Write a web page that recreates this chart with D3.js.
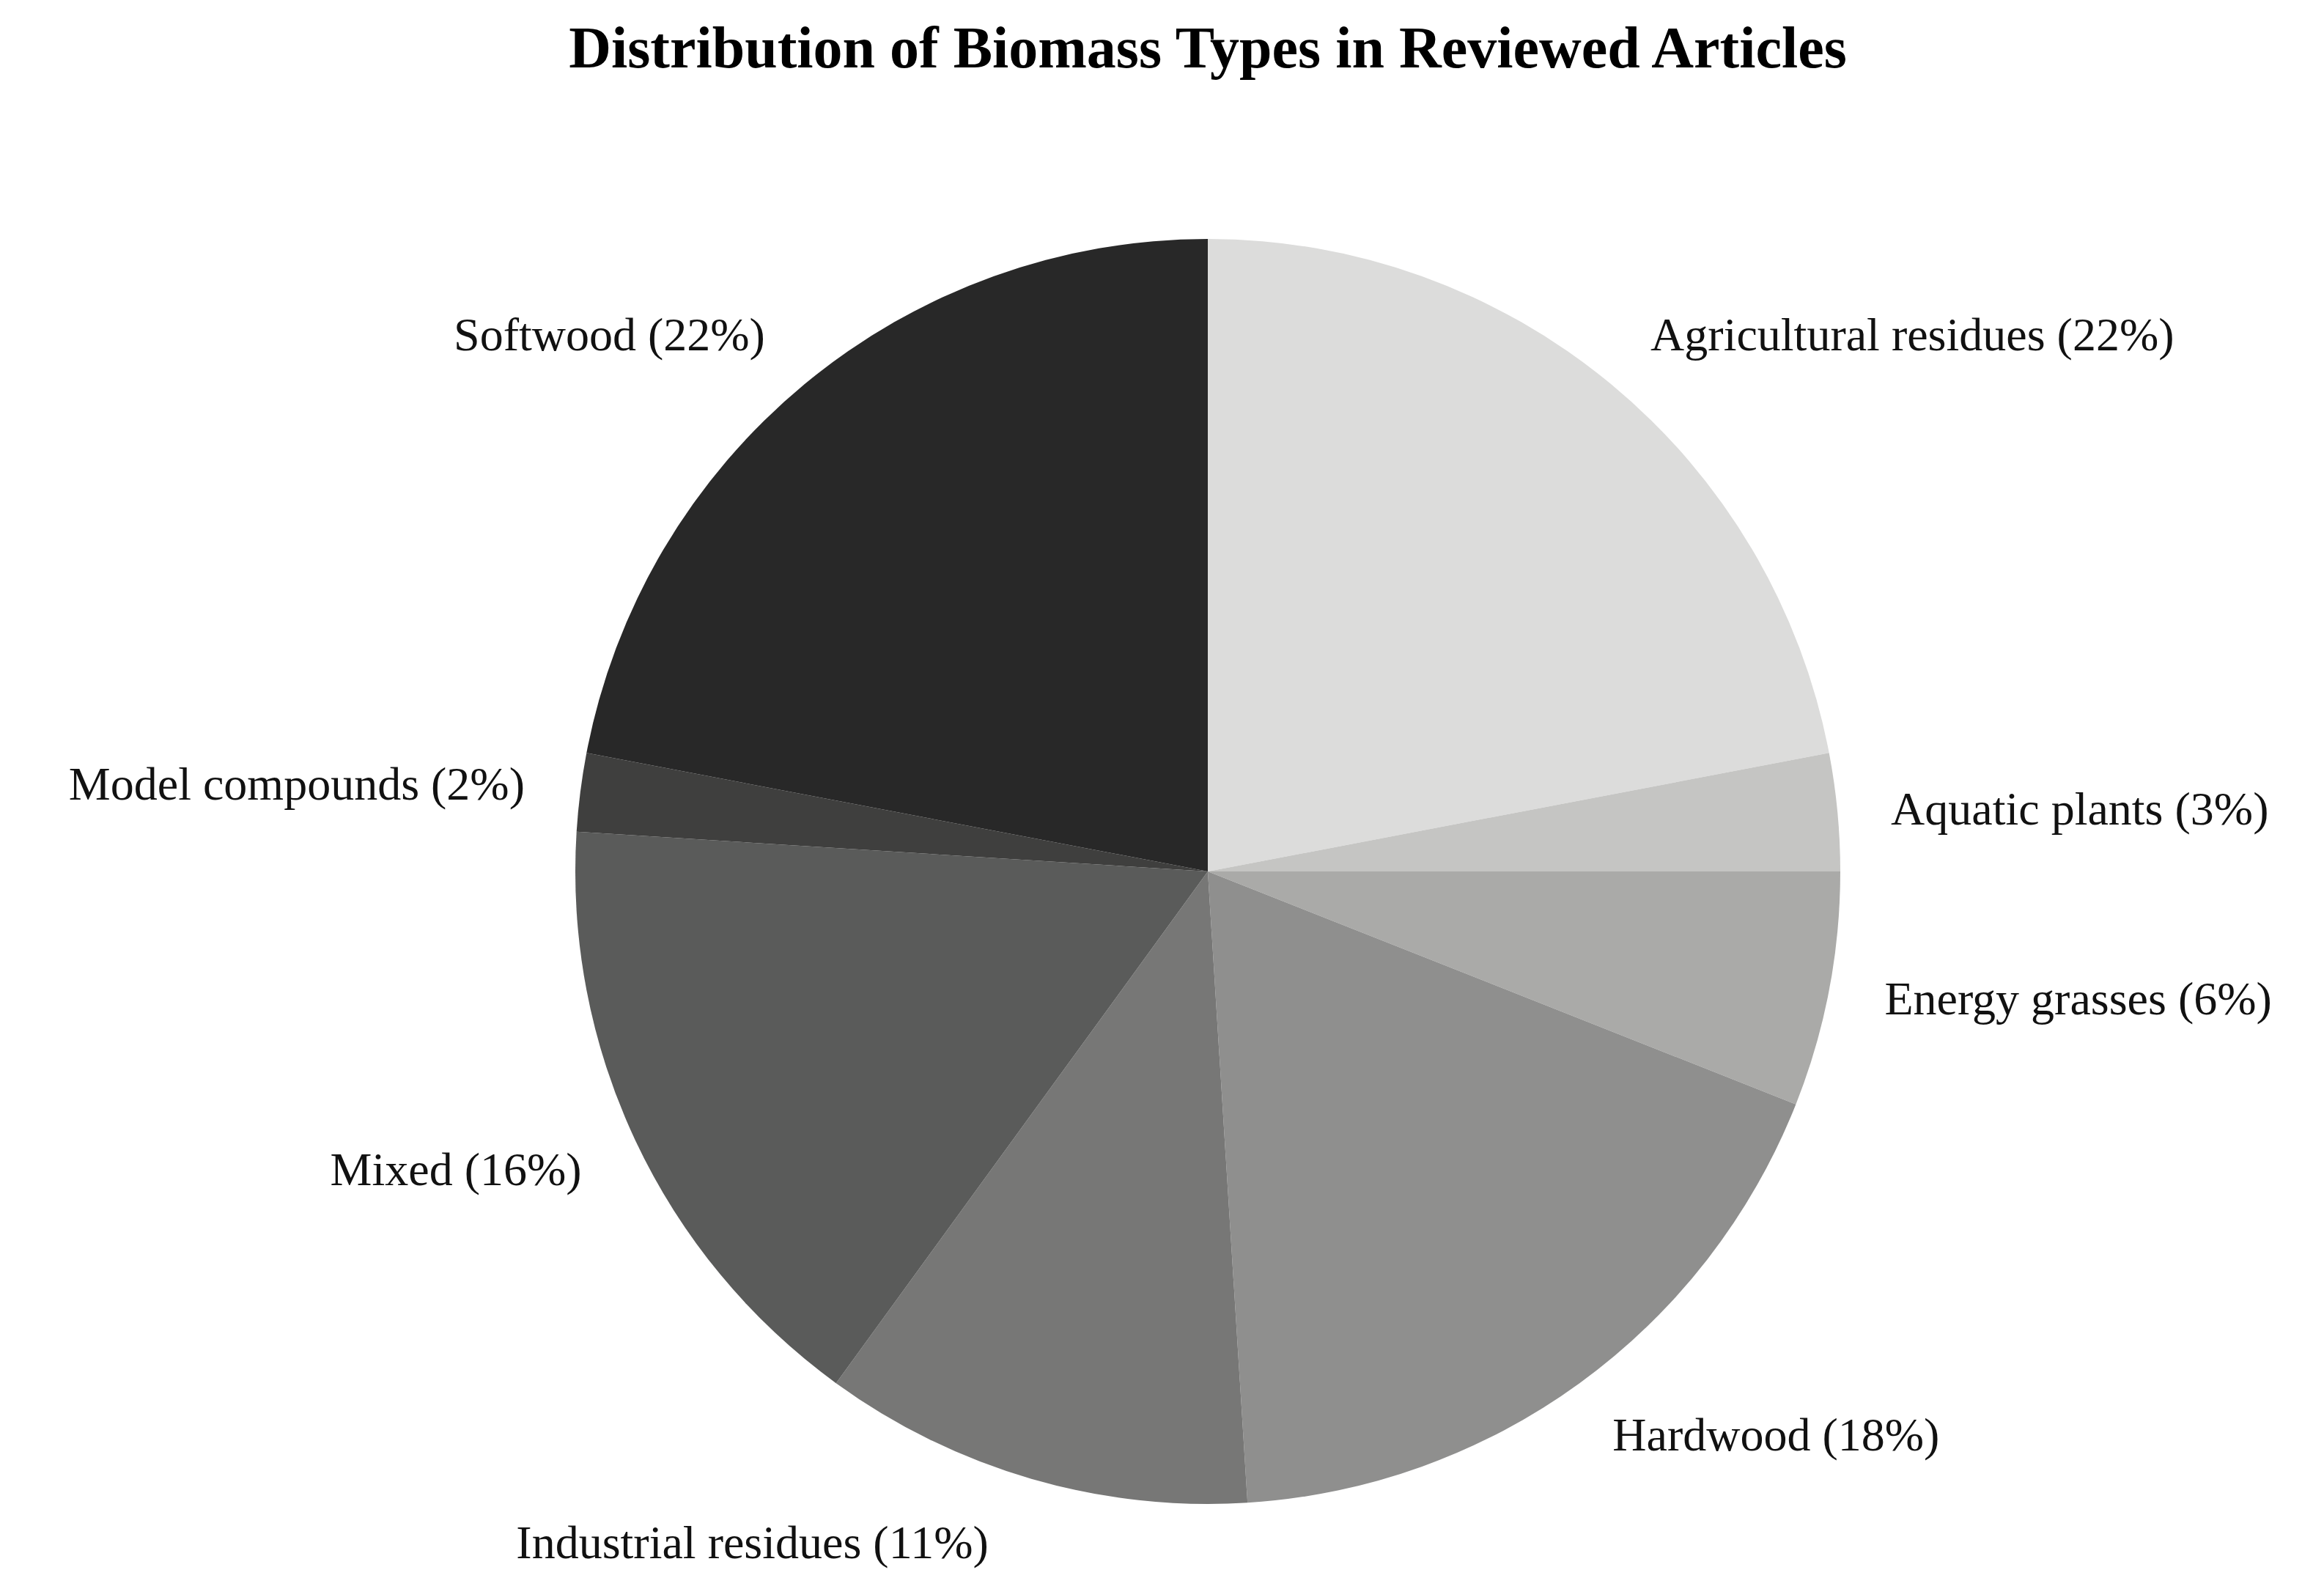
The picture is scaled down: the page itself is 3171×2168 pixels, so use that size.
<!DOCTYPE html>
<html><head><meta charset="utf-8">
<script src="https://cdn.jsdelivr.net/npm/d3@7"></script>
<style>body{margin:0;background:#fff}</style>
</head><body>
<div id="chart"></div>
<script>
// data
var categories = ["Agricultural residues","Aquatic plants","Energy grasses","Hardwood","Industrial residues","Mixed","Model compounds","Softwood"];
var shares = [22,3,6,18,11,16,2,22];
var sliceColors = ["#dcdcdb","#c5c5c3","#aaaaa8","#8f8f8e","#777776","#5a5b5a","#3f3f3e","#282828"];
// label offsets in pie radii from centre, with anchor
var labelDx = [0.70,1.08,1.07,0.64,-0.72,-0.99,-1.08,-0.70];
var labelDy = [-0.85,-0.10,0.20,0.89,1.06,0.47,-0.14,-0.85];
var labelAnchor = ["start","start","start","start","middle","end","end","end"];

var W = 3171, H = 2168;
var cx = 1648, cy = 1189, r = 863;

var svg = d3.select("#chart").append("svg")
    .attr("width", W).attr("height", H);

svg.append("text")
    .attr("x", cx).attr("y", 92)
    .attr("text-anchor", "middle")
    .attr("font-family", "Liberation Serif, serif")
    .attr("font-weight", "bold")
    .attr("font-size", 80)
    .text("Distribution of Biomass Types in Reviewed Articles");

var data = categories.map(function(c, i){ return {name: c, value: shares[i], i: i}; });

var pie = d3.pie().sort(null).value(function(d){ return d.value; });
var arc = d3.arc().innerRadius(0).outerRadius(r);

var g = svg.append("g").attr("transform", "translate(" + cx + "," + cy + ")");

g.selectAll("path").data(pie(data)).enter()
    .append("path")
    .attr("d", arc)
    .attr("fill", function(d){ return sliceColors[d.data.i]; });

g.selectAll("text.lbl").data(data).enter()
    .append("text")
    .attr("class", "lbl")
    .attr("x", function(d){ return labelDx[d.i] * r; })
    .attr("y", function(d){ return labelDy[d.i] * r; })
    .attr("dy", "0.35em")
    .attr("text-anchor", function(d){ return labelAnchor[d.i]; })
    .attr("font-family", "Liberation Serif, serif")
    .attr("font-size", 64)
    .attr("fill", "#111")
    .text(function(d){ return d.name + " (" + d.value + "%)"; });
</script>
</body></html>
